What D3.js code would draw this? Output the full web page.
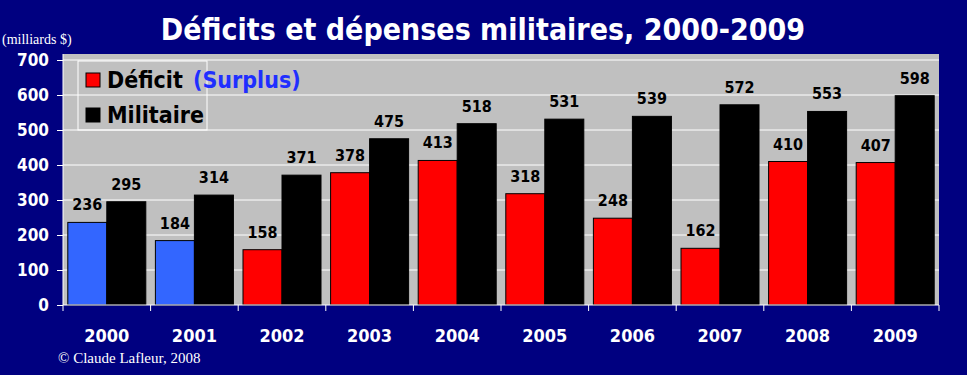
<!DOCTYPE html>
<html>
<head>
<meta charset="utf-8">
<script src="https://cdn.jsdelivr.net/npm/d3@7"></script>
<style>
  body { margin: 0; background: #000080; }
  svg { display: block; }
</style>
</head>
<body>
<svg id="chart"></svg>
<script>
const years = ["2000", "2001", "2002", "2003", "2004", "2005", "2006", "2007", "2008", "2009"];
const deficit = [236, 184, 158, 378, 413, 318, 248, 162, 410, 407];
const military = [295, 314, 371, 475, 518, 531, 539, 572, 553, 598];
const surplusYears = ["2000", "2001"];
const yTicks = [0, 100, 200, 300, 400, 500, 600, 700];

const width = 967, height = 375;
const margin = {top: 54, right: 28, bottom: 70, left: 63};
const font = "'DejaVu Sans Condensed', 'DejaVu Sans', sans-serif";

const svg = d3.select("#chart")
    .attr("width", width)
    .attr("height", height);

svg.append("rect")
    .attr("width", width).attr("height", height)
    .attr("fill", "#000080");

const x = d3.scaleBand()
    .domain(years)
    .range([margin.left, width - margin.right]);

const xSub = d3.scaleBand()
    .domain(["deficit", "military"])
    .range([0, x.bandwidth()])
    .paddingOuter(0.123);

const y = d3.scaleLinear()
    .domain([0, 700])
    .range([305, 60]);

// plot background
svg.append("rect")
    .attr("x", margin.left)
    .attr("y", margin.top)
    .attr("width", x.range()[1] - margin.left)
    .attr("height", y(0) - margin.top)
    .attr("fill", "#c0c0c0");

// gridlines
svg.append("g")
    .selectAll("line").data(yTicks.slice(1)).enter().append("line")
    .attr("x1", margin.left).attr("x2", x.range()[1])
    .attr("y1", d => y(d)).attr("y2", d => y(d))
    .attr("stroke", "#fff").attr("stroke-width", 1);

const rows = years.map((yr, i) => ({year: yr, deficit: deficit[i], military: military[i]}));

// bars
const groups = svg.append("g")
    .selectAll("g").data(rows).enter().append("g")
    .attr("transform", d => `translate(${x(d.year)},0)`);

groups.append("rect")
    .attr("x", xSub("deficit"))
    .attr("y", d => y(d.deficit))
    .attr("width", xSub.bandwidth())
    .attr("height", d => y(0) - y(d.deficit))
    .attr("fill", d => surplusYears.includes(d.year) ? "#3366ff" : "#ff0000")
    .attr("stroke", "#000").attr("stroke-width", 1);

groups.append("rect")
    .attr("x", xSub("military"))
    .attr("y", d => y(d.military))
    .attr("width", xSub.bandwidth())
    .attr("height", d => y(0) - y(d.military))
    .attr("fill", "#000")
    .attr("stroke", "#000").attr("stroke-width", 1);

// value labels
groups.append("text")
    .attr("x", xSub("deficit") + xSub.bandwidth() / 2)
    .attr("y", d => y(d.deficit) - 12)
    .attr("text-anchor", "middle")
    .style("font", `bold 16px ${font}`)
    .attr("fill", "#000")
    .text(d => d.deficit);

groups.append("text")
    .attr("x", xSub("military") + xSub.bandwidth() / 2)
    .attr("y", d => y(d.military) - 12)
    .attr("text-anchor", "middle")
    .style("font", `bold 16px ${font}`)
    .attr("fill", "#000")
    .text(d => d.military);

// axes
const yAxis = svg.append("g")
    .attr("transform", `translate(${margin.left},0)`)
    .call(d3.axisLeft(y).tickValues(yTicks).tickSize(6).tickPadding(8));
yAxis.select(".domain").attr("stroke", "#fff").attr("d", `M0,${margin.top}V${y(0)}`);
yAxis.selectAll(".tick line").attr("stroke", "#fff");
yAxis.selectAll("text")
    .attr("fill", "#fff")
    .style("font", `bold 17px ${font}`);

const xAxis = svg.append("g")
    .attr("transform", `translate(0,${y(0)})`)
    .call(d3.axisBottom(x).tickSize(0).tickPadding(24));
xAxis.select(".domain").attr("stroke", "#fff").attr("d", `M${margin.left},0H${x.range()[1]}`);
xAxis.selectAll("text")
    .attr("fill", "#fff")
    .style("font", `bold 18px ${font}`);

// category boundary ticks
svg.append("g")
    .selectAll("line").data(years.concat(["end"])).enter().append("line")
    .attr("x1", (d, i) => margin.left + i * x.step())
    .attr("x2", (d, i) => margin.left + i * x.step())
    .attr("y1", y(0)).attr("y2", y(0) + 6)
    .attr("stroke", "#fff");

// legend
const legend = svg.append("g");
legend.append("rect")
    .attr("x", 78).attr("y", 61).attr("width", 129).attr("height", 69)
    .attr("fill", "none").attr("stroke", "#fff");
legend.append("rect")
    .attr("x", 86).attr("y", 73).attr("width", 14).attr("height", 14)
    .attr("fill", "#ff0000").attr("stroke", "#000");
legend.append("rect")
    .attr("x", 86).attr("y", 108).attr("width", 14).attr("height", 14)
    .attr("fill", "#000").attr("stroke", "#000");
legend.append("text")
    .attr("x", 107).attr("y", 88)
    .style("font", `bold 23px ${font}`)
    .attr("fill", "#000")
    .text("Déficit");
legend.append("text")
    .attr("x", 193).attr("y", 88)
    .style("font", `bold 23px ${font}`)
    .attr("fill", "#1f2fff")
    .text("(Surplus)");
legend.append("text")
    .attr("x", 107).attr("y", 123)
    .style("font", `bold 23px ${font}`)
    .attr("fill", "#000")
    .text("Militaire");

// title and notes
svg.append("text")
    .attr("x", 483).attr("y", 40)
    .attr("text-anchor", "middle")
    .style("font", `bold 30px ${font}`)
    .attr("fill", "#fff")
    .text("Déficits et dépenses militaires, 2000-2009");

svg.append("text")
    .attr("x", 2).attr("y", 44)
    .style("font", "14px 'Liberation Serif', serif")
    .attr("fill", "#fff")
    .text("(milliards $)");

svg.append("text")
    .attr("x", 58).attr("y", 363)
    .style("font", "15px 'Liberation Serif', serif")
    .attr("fill", "#fff")
    .text("© Claude Lafleur, 2008");
</script>
</body>
</html>
